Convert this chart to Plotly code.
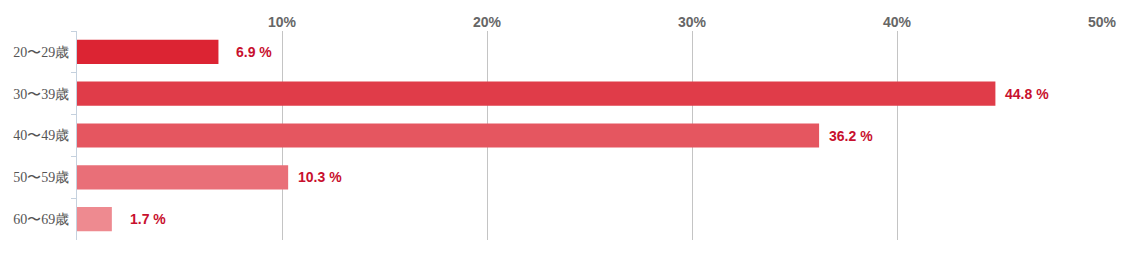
import plotly.graph_objects as go

categories = ["20〜29歳", "30〜39歳", "40〜49歳", "50〜59歳", "60〜69歳"]
values = [6.9, 44.8, 36.2, 10.3, 1.7]
bar_colors = ["#dc2433", "#e03c49", "#e55660", "#e96f78", "#ee8a90"]
x_ticks = [10, 20, 30, 40, 50]
x_tick_labels = ["10%", "20%", "30%", "40%", "50%"]

fig = go.Figure()
fig.add_trace(go.Bar(
    x=values, y=categories, orientation="h",
    marker=dict(color=bar_colors, line=dict(width=0)),
    hoverinfo="skip",
))

for c, v in zip(categories, values):
    fig.add_annotation(
        x=v, y=c, text=f"<b>{v:.1f} %</b>", showarrow=False,
        xanchor="right", xshift=56,
        font=dict(family="Arial, Liberation Sans, sans-serif", size=14, color="#c8102e"),
    )

fig.update_layout(
    width=1123, height=255,
    margin=dict(l=77, r=21, t=31, b=15),
    paper_bgcolor="white", plot_bgcolor="white",
    bargap=0.42, showlegend=False,
    xaxis=dict(
        side="top", range=[0, 50], tickvals=x_ticks, ticktext=x_tick_labels,
        showgrid=True, gridcolor="#c4c4c4", gridwidth=1, zeroline=False,
        showline=False, ticks="", automargin=False,
        tickfont=dict(family="Arial, Liberation Sans, sans-serif", size=14, color="#666666", weight="bold"),
    ),
    yaxis=dict(
        autorange="reversed", showline=True, linecolor="#c5d1de", linewidth=1,
        ticks="outside", tickson="boundaries", ticklen=5, tickcolor="#c5d1de",
        showgrid=False, ticklabelstandoff=4, automargin=False,
        tickfont=dict(family="Liberation Serif, Times New Roman, serif", size=14, color="#555555"),
    ),
)

fig.write_html("out.html")
